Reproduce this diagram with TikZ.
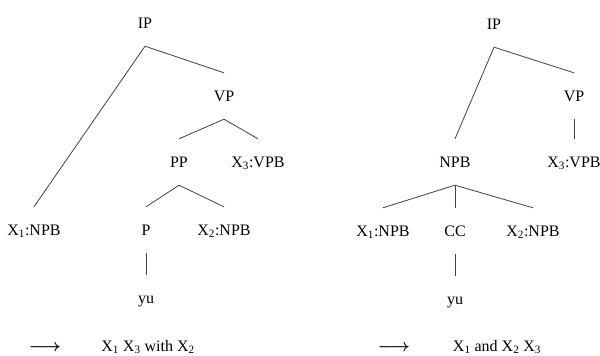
\documentclass[tikz,border=0pt]{standalone}
\usepackage{fontspec}
\setmainfont{Liberation Serif}
\newcommand{\ruleto}{\mbox{\boldmath$\longrightarrow$}}
\begin{document}
\begin{tikzpicture}[x=1pt,y=-1pt,
  lbl/.style={inner sep=0pt, text height=10.5pt, text depth=0pt, minimum height=46pt,
              font=\fontsize{16}{19}\selectfont},
  edge/.style={draw=black!75, line width=0.8pt},
  txt/.style={inner sep=0pt, anchor=base, font=\fontsize{16}{19}\selectfont}]
\useasboundingbox (0,0) rectangle (600,356);

% left tree
\node[lbl] (lIP)  at (145,23)  {IP};
\node[lbl] (lVP)  at (224,96)  {VP};
\node[lbl] (lPP)  at (179,162) {PP};
\node[lbl] (lX3)  at (258,162) {X\textsubscript{3}:VPB};
\node[lbl] (lX1)  at (34,230)  {X\textsubscript{1}:NPB};
\node[lbl] (lP)   at (146,230) {P};
\node[lbl] (lX2)  at (224,230) {X\textsubscript{2}:NPB};
\node[lbl] (lyu)  at (146,298) {yu};

\draw[edge] (lIP.south) -- (lVP.north);
\draw[edge] (lIP.south) -- (lX1.north);
\draw[edge] (lVP.south) -- (lPP.north);
\draw[edge] (lVP.south) -- (lX3.north);
\draw[edge] (lPP.south) -- (lP.north);
\draw[edge] (lPP.south) -- (lX2.north);
\draw[edge] (lP.south) -- (lyu.north);

% right tree
\node[lbl] (rIP)  at (494,24)  {IP};
\node[lbl] (rVP)  at (574,96)  {VP};
\node[lbl] (rNPB) at (455,162) {NPB};
\node[lbl] (rX3)  at (574,162) {X\textsubscript{3}:VPB};
\node[lbl] (rX1)  at (383,231) {X\textsubscript{1}:NPB};
\node[lbl] (rCC)  at (455,231) {CC};
\node[lbl] (rX2)  at (533,231) {X\textsubscript{2}:NPB};
\node[lbl] (ryu)  at (455,299) {yu};

\draw[edge] (rIP.south) -- (rVP.north);
\draw[edge] (rIP.south) -- (rNPB.north);
\draw[edge] (rVP.south) -- (rX3.north);
\draw[edge] (rNPB.south) -- (rX1.north);
\draw[edge] (rNPB.south) -- (rCC.north);
\draw[edge] (rNPB.south) -- (rX2.north);
\draw[edge] (rCC.south) -- (ryu.north);

% rewrite results
\node[txt] (larr) at (45,351)  {\ruleto};
\node[txt] (lout) at (148,351) {X\textsubscript{1} X\textsubscript{3} with X\textsubscript{2}};
\node[txt] (rarr) at (394,351) {\ruleto};
\node[txt] (rout) at (497,351) {X\textsubscript{1} and X\textsubscript{2} X\textsubscript{3}};
\end{tikzpicture}
\end{document}
